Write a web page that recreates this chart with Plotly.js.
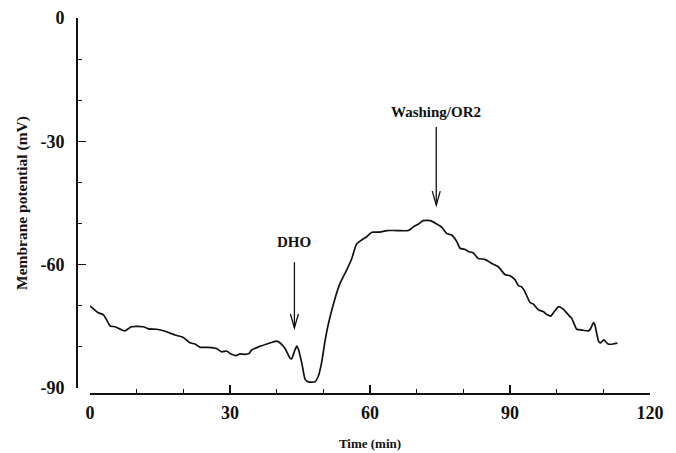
<!DOCTYPE html>
<html>
<head>
<meta charset="utf-8">
<script src="https://cdn.plot.ly/plotly-3.0.1.min.js"></script>
<style>html,body{margin:0;padding:0;background:#fff;}#chart{width:676px;height:453px;}</style>
</head>
<body>
<div id="chart"></div>
<script>
// Time (min)
var timeMin = [0,1.8,2.9,3.6,4.3,5.4,7.4,8.9,11.4,12.5,
  14.3,16.1,18.2,20,21.4,22.5,23.6,25.3,27.1,28.2,
  29.3,30,31.3,32.1,33.2,34.1,34.6,36.1,37.9,40,
  40.7,41.8,42.9,43.2,43.9,44.3,44.6,45.4,46.1,46.8,
  48.2,48.9,49.6,50.4,51.1,52.5,53.6,55,56.1,57.1,
  58.2,59.3,60.4,62.1,63.6,65.7,68.2,69.3,70.4,71.4,
  72.9,74.3,75.4,76.4,77.5,78.6,79.3,80.4,81.1,82.1,
  83.2,84.6,86.1,87.5,88.9,90,91.1,91.8,92.5,93.2,
  94.3,95,96.1,97.1,98,98.7,99.5,100.4,101.4,102.5,
  103.2,104.3,105.4,106.8,107.3,107.9,108.2,109,109.4,110.1,
  111,112.1,113];
// Membrane potential (mV)
var potential = [-70,-71.7,-72.2,-73.5,-74.9,-75.1,-76.1,-75.1,-75.1,-75.6,
  -75.7,-76.2,-77.1,-77.7,-79,-79.3,-80.1,-80.1,-80.4,-81.2,
  -81,-81.6,-82.1,-81.7,-81.8,-81.6,-80.8,-80,-79.3,-78.6,
  -79,-80.4,-82.8,-82.9,-80.8,-79.8,-80.4,-84,-87.9,-88.5,
  -88.5,-87.2,-84,-78.3,-74.3,-68.2,-64.5,-61.3,-58.5,-55,
  -54,-53.2,-52.1,-52.1,-51.7,-51.7,-51.7,-50.8,-50.1,-49.3,
  -49.3,-50.1,-50.9,-52.4,-52.8,-54.4,-56,-56.3,-56.8,-57.1,
  -58.5,-58.7,-59.7,-60.5,-62.4,-62.7,-63.7,-65.1,-65.4,-66.6,
  -69.2,-69.6,-71,-71.4,-72.2,-72.5,-71.4,-70.2,-70.8,-72.2,
  -73,-75.7,-75.9,-76.1,-75.5,-74.1,-74.7,-78.7,-79,-78.3,
  -79.3,-79.3,-79.1];

// Event markers
var eventLabels = ["DHO", "Washing/OR2"];
var eventX = [43.8, 74.2];
var eventLabelY = [-54.5, -22.9];
var arrowTailY = [-59.4, -26.5];
var arrowTipY = [-75.4, -45.5];

var xTickVals = [0, 30, 60, 90, 120];
var xTickText = ["0", "30", "60", "90", "120"];
var yTickVals = [-90, -60, -30, 0];
var yTickText = ["-90", "-60", "-30", "0"];

var serif = "Liberation Serif, Times New Roman, serif";

var annotations = eventLabels.map(function (lab, i) {
  return {x: eventX[i], y: eventLabelY[i], xref: 'x', yref: 'y', text: lab,
    showarrow: false, xanchor: 'center', yanchor: 'middle',
    font: {family: serif, size: 15, color: '#111', weight: 'bold'}};
});

var shapes = [];
eventLabels.forEach(function (lab, i) {
  shapes.push({type: 'line', xref: 'x', yref: 'y', x0: eventX[i], x1: eventX[i],
    y0: arrowTailY[i], y1: arrowTipY[i], line: {color: '#111', width: 1.3}});
  shapes.push({type: 'path', xref: 'x', yref: 'y', xsizemode: 'pixel', ysizemode: 'pixel',
    xanchor: eventX[i], yanchor: arrowTipY[i], path: 'M-4,14 L0,0 L4,14',
    line: {color: '#111', width: 1.3}});
});

var trace = {x: timeMin, y: potential, type: 'scatter', mode: 'lines',
  line: {color: '#111', width: 1.7, shape: 'spline', smoothing: 0.5}, hoverinfo: 'skip'};

var layout = {
  width: 676, height: 453,
  margin: {l: 76, r: 26, t: 18, b: 60},
  paper_bgcolor: '#fff', plot_bgcolor: '#fff',
  showlegend: false,
  xaxis: {domain: [0.0244, 1], range: [0, 120], anchor: 'free', position: 0,
    showgrid: false, zeroline: false, showline: true, linecolor: '#111', linewidth: 1.8,
    tickmode: 'array', tickvals: xTickVals, ticktext: xTickText,
    ticks: 'inside', ticklen: 8, tickwidth: 1.5, tickcolor: '#111',
    minor: {dtick: 10, tick0: 0, ticks: 'inside', ticklen: 4, tickwidth: 1.2, tickcolor: '#111'},
    tickfont: {family: serif, size: 18, color: '#111', weight: 'bold'},
    ticklabelstandoff: 3,
    title: {text: 'Time (min)', font: {family: serif, size: 13, color: '#111', weight: 'bold'}, standoff: 16}},
  yaxis: {domain: [0.0133, 1], range: [-90, 0], anchor: 'free', position: 0,
    showgrid: false, zeroline: false, showline: true, linecolor: '#111', linewidth: 1.8,
    tickmode: 'array', tickvals: yTickVals, ticktext: yTickText,
    ticks: 'inside', ticklen: 8, tickwidth: 1.5, tickcolor: '#111',
    minor: {dtick: 10, tick0: 0, ticks: 'inside', ticklen: 4, tickwidth: 1.2, tickcolor: '#111'},
    tickfont: {family: serif, size: 18, color: '#111', weight: 'bold'},
    ticklabelstandoff: 8,
    title: {text: 'Membrane potential (mV)', font: {family: serif, size: 15.5, color: '#111', weight: 'bold'}, standoff: 7}},
  annotations: annotations,
  shapes: shapes
};

Plotly.newPlot('chart', [trace], layout, {staticPlot: true, displayModeBar: false});
</script>
</body>
</html>
